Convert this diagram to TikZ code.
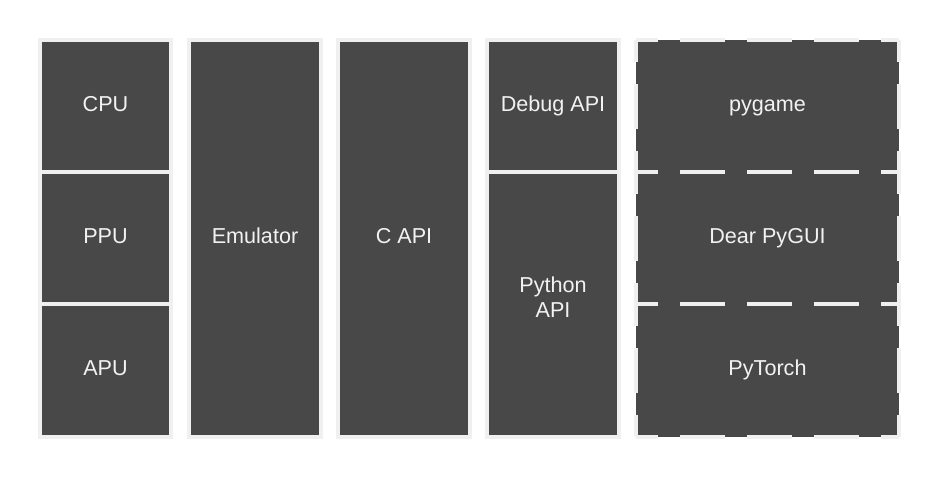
\documentclass[tikz,border=0pt]{standalone}
\usepackage{fontspec}
\setmainfont{Liberation Sans}
\definecolor{cellfill}{HTML}{484848}
\definecolor{celledge}{HTML}{F0F0F0}
\definecolor{celltext}{HTML}{F2F2F2}
\begin{document}
\begin{tikzpicture}[x=1pt,y=-1pt,
  cellbox/.style={rectangle, fill=cellfill, draw=celledge, line width=4pt,
    inner sep=0pt, outer sep=0pt, anchor=north west, text=celltext,
    font=\fontsize{21.6}{25.3}\selectfont},
  cell/.style={cellbox, text height=15.5pt, text depth=5pt},
  dcell/.style={cell, draw=none},
  dedge/.style={draw=celledge, line width=4pt, dash pattern=on 45pt off 22pt, dash phase=23pt},
  ltext/.style={text=celltext, font=\fontsize{21.6}{25.3}\selectfont, inner sep=0pt, align=center}
]
\useasboundingbox (0,0) rectangle (940,477);
\fill[white] (0,0) rectangle (940,477);

% column 1
\node[cell, minimum width=131pt, minimum height=132pt] (cpu) at (40,40) {CPU};
\node[cell, minimum width=131pt, minimum height=132pt] (ppu) at (40,172) {PPU};
\node[cell, minimum width=131pt, minimum height=133pt] (apu) at (40,304) {APU};
% column 2
\node[cell, minimum width=132pt, minimum height=397pt] (emu) at (189,40) {Emulator};
% column 3
\node[cell, minimum width=132pt, minimum height=397pt] (capi) at (338,40) {C API};
% column 4
\node[cell, minimum width=132pt, minimum height=132pt] (dbg) at (487,40) {Debug API};
\node[cellbox, minimum width=132pt, minimum height=265pt,
  label={[name=pyapit, ltext, yshift=7pt]center:{Python\\API}}] (pyapi) at (487,172) {};
% column 5 (dashed)
\node[dcell, minimum width=263pt, minimum height=132pt] (pg) at (636,40) {pygame};
\node[dcell, minimum width=263pt, minimum height=132pt] (dpg) at (636,172) {Dear PyGUI};
\node[dcell, minimum width=263pt, minimum height=133pt] (pt) at (636,304) {PyTorch};
\foreach \c in {pg,dpg,pt}{
  \draw[dedge] (\c.north west) -- (\c.north east)
               (\c.north east) -- (\c.south east)
               (\c.south west) -- (\c.south east)
               (\c.north west) -- (\c.south west);
}
\end{tikzpicture}
\end{document}
